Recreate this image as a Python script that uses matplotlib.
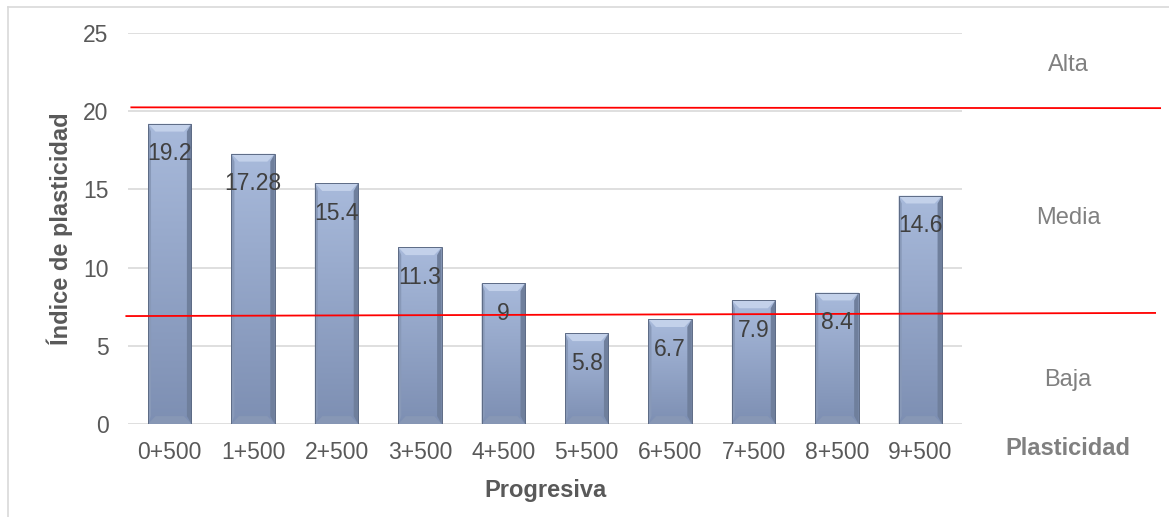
import numpy as np
import matplotlib
matplotlib.use("Agg")
import matplotlib.pyplot as plt
from matplotlib.patches import Rectangle, Polygon
from matplotlib.lines import Line2D

plt.rcParams["font.family"] = ["Liberation Sans", "DejaVu Sans"]

progresiva = ["0+500", "1+500", "2+500", "3+500", "4+500",
              "5+500", "6+500", "7+500", "8+500", "9+500"]
indice = [19.2, 17.28, 15.4, 11.3, 9, 5.8, 6.7, 7.9, 8.4, 14.6]
etiquetas = ["19.2", "17.28", "15.4", "11.3", "9", "5.8", "6.7", "7.9", "8.4", "14.6"]

# limites de plasticidad (lineas rojas): inicio y fin de cada una
limite_alto = (20.25, 20.2)
limite_bajo = (6.9, 7.1)
zonas = ["Alta", "Media", "Baja"]
zonas_y = [22.95, 13.2, 2.8]

fig = plt.figure(figsize=(11.69, 5.17), dpi=100)
ax = fig.add_axes([0.1095, 0.180, 0.7135, 0.756])

x = np.arange(len(progresiva))
ancho = 0.52
ax.set_xlim(-0.5, len(progresiva) - 0.5)
ax.set_ylim(0, 25)

# degradado vertical de las barras
grad = np.linspace(0, 1, 256).reshape(-1, 1)
top_c = np.array([0.66, 0.73, 0.86])
bot_c = np.array([0.49, 0.56, 0.70])
img = (top_c * (1 - grad) + bot_c * grad).reshape(256, 1, 3)

bars = ax.bar(x, indice, ancho, color="none", zorder=2)
for b, v in zip(bars, indice):
    x0 = b.get_x()
    w = b.get_width()
    im = ax.imshow(img, extent=(x0, x0 + w, 0, v), aspect="auto", zorder=2,
                   interpolation="bilinear")
    clip = Rectangle((x0, 0), w, v, transform=ax.transData)
    im.set_clip_path(clip)
    # bisel: arriba claro, abajo y lados mas oscuros
    dx = 0.09
    dy = 0.5
    ax.add_patch(Polygon([(x0, v), (x0 + w, v), (x0 + w - dx, v - dy), (x0 + dx, v - dy)],
                         closed=True, color="#c3d1ea", lw=0, zorder=3))
    ax.add_patch(Polygon([(x0, 0), (x0 + w, 0), (x0 + w - dx, dy), (x0 + dx, dy)],
                         closed=True, color="#8797b5", lw=0, zorder=3))
    ax.add_patch(Polygon([(x0 + w, 0), (x0 + w, v), (x0 + w - dx * 0.6, v - dy),
                          (x0 + w - dx * 0.6, dy)],
                         closed=True, color="#6f7f9c", lw=0, zorder=3))
    ax.add_patch(Polygon([(x0, 0), (x0, v), (x0 + dx * 0.4, v - dy), (x0 + dx * 0.4, dy)],
                         closed=True, color="#8899b8", lw=0, zorder=3))
    ax.add_patch(Rectangle((x0, 0), w, v, fill=False, ec="#5d6b85", lw=0.7, zorder=3))

for xi, v, t in zip(x, indice, etiquetas):
    ax.annotate(t, (xi, v), xytext=(0, -21.5), textcoords="offset points",
                ha="center", va="center", fontsize=16.5, color="#404040", zorder=5)

ax.set_yticks([0, 5, 10, 15, 20, 25])
ax.set_xticks(x)
ax.set_xticklabels(progresiva)
ax.tick_params(length=0, labelsize=16.5, colors="#595959")
ax.tick_params(axis="x", pad=12)
ax.tick_params(axis="y", pad=14)
ax.grid(axis="y", color="#d9d9d9", lw=1.2, zorder=0)
ax.set_axisbelow(True)
for s in ax.spines.values():
    s.set_visible(False)

ax.set_xlabel("Progresiva", fontsize=17, fontweight="bold", color="#595959", labelpad=11)
ax.set_ylabel("Índice de plasticidad", fontsize=17, fontweight="bold", color="#595959",
              labelpad=7)

# lineas de limite, se extienden fuera del area de trazado
x_end_alto = (1160 - 128) / 834 * 10 - 0.5
x_end_bajo = (1155 - 128) / 834 * 10 - 0.5
ax.add_line(Line2D([-0.46, x_end_alto], list(limite_alto), color="red", lw=1.3,
                   clip_on=False, zorder=4))
ax.add_line(Line2D([-0.52, x_end_bajo], list(limite_bajo), color="red", lw=1.3,
                   clip_on=False, zorder=4))

for z, zy in zip(zonas, zonas_y):
    ax.text(10.77, zy, z, fontsize=17, color="#808080", ha="center", va="center",
            clip_on=False)
ax.text(10.77, -1.6, "Plasticidad", fontsize=17, color="#808080", fontweight="bold",
        ha="center", va="center", clip_on=False)

# marco del grafico
fig.add_artist(Line2D([8 / 1169, 8 / 1169], [0, 1 - 7 / 517], color="#d9d9d9", lw=1.2))
fig.add_artist(Line2D([8 / 1169, 1], [1 - 7 / 517, 1 - 7 / 517], color="#d9d9d9", lw=1.2))

fig.savefig("out.png", dpi=100)
